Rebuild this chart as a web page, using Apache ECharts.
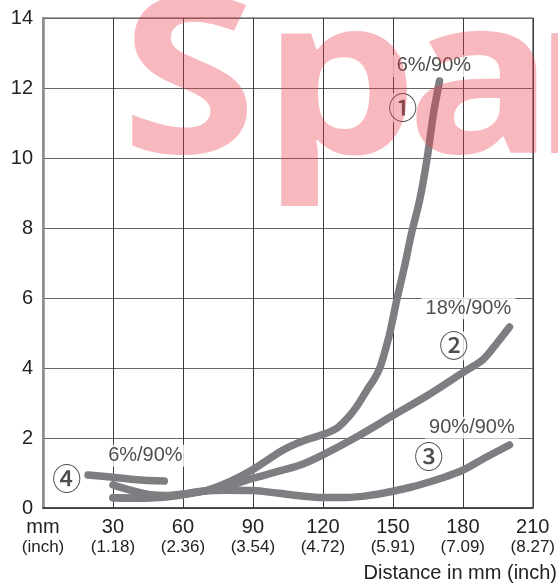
<!DOCTYPE html>
<html>
<head>
<meta charset="utf-8">
<script src="https://cdn.jsdelivr.net/npm/echarts@6/dist/echarts.min.js"></script>
<style>
html,body{margin:0;padding:0;background:#fff;}
#chart{width:558px;height:586px;}
</style>
</head>
<body>
<div id="chart"></div>
<script>
// ---- data ----
const mmLabels = ['mm', '30', '60', '90', '120', '150', '180', '210'];
const inchLabels = ['(inch)', '(1.18)', '(2.36)', '(3.54)', '(4.72)', '(5.91)', '(7.09)', '(8.27)'];
const xTitle = 'Distance in mm (inch)';

// curve 1: 6%/90%
const curve1 = [[30,0.29],[40,0.28],[50,0.3],[60,0.38],[70,0.5],[80,0.75],[90,1.1],[101.5,1.6],[106,1.76],[112,1.93],[120,2.1],[126,2.28],[131.5,2.64],[135,2.95],[139,3.38],[142,3.68],[144.4,4.0],[146.5,4.45],[148.7,5.0],[151.7,5.95],[155,6.9],[158,7.85],[161.5,8.8],[164.6,9.95],[167.6,11.35],[170,12.2]];
// curve 2: 18%/90%
const curve2 = [[30,0.66],[38,0.5],[46,0.38],[55,0.36],[65,0.44],[75,0.56],[82,0.68],[90,0.85],[100,1.03],[110,1.22],[120,1.52],[135,2.05],[150,2.64],[165,3.22],[180,3.87],[188.5,4.23],[194.5,4.7],[200,5.17]];
// curve 3: 90%/90%
const curve3 = [[30,0.29],[40,0.28],[50,0.32],[60,0.4],[68,0.48],[78,0.51],[90,0.5],[101,0.42],[110,0.35],[120,0.3],[130,0.3],[140,0.36],[150,0.48],[158,0.6],[166,0.75],[173,0.9],[180,1.08],[190,1.45],[200,1.8]];
// curve 4: 6%/90%
const curve4 = [[19.3,0.94],[30,0.88],[40,0.81],[52,0.77]];

// annotations (text, anchor in data units)
const noteTexts = ['6%/90%', '①', '18%/90%', '②', '90%/90%', '③', '6%/90%', '④'];
const noteAnchors = [[167.6,12.63],[154.2,11.44],[182.4,5.71],[176.1,4.63],[183.9,2.29],[165.4,1.46],[43.9,1.49],[10.2,0.82]];

// watermark letters
const wmLetters = ['S', 'p', 'a', 'r'];

// ---- chart ----
const chart = echarts.init(document.getElementById('chart'), null, {renderer:'canvas'});
const FONT = '"Liberation Sans", Arial, sans-serif';
const lineColor = '#7e7e82';
function lineSeries(d){
  return {
    type:'line', data:d, showSymbol:false, symbol:'none', smooth:0.3,
    lineStyle:{color:lineColor, width:7.5, cap:'round', join:'round'},
    z:3, silent:true
  };
}
const noteData = noteTexts.map((t,i)=>{
  const circled = /[①②③④]/.test(t);
  return {
    value: noteAnchors[i],
    label:{
      show:true, position:'inside', formatter:t,
      fontFamily: circled ? '"Noto Sans CJK JP", "DejaVu Sans", sans-serif' : FONT,
      fontSize: circled ? 29 : 20,
      fontWeight: circled ? 500 : 'normal',
      color:'#222',
      backgroundColor:'#ffffff',
      padding: circled ? [0,1] : [1,4]
    }
  };
});

const wmX = [121, 262, 406, 532];
const wmGraphics = wmLetters.map((c,i)=>({
  type:'text', x:wmX[i], y:90, scaleX:1.12, z:100, silent:true,
  style:{text:c, font:'bold 220px "Open Sans"', fill:'rgba(232,60,72,0.36)', verticalAlign:'middle', align:'left'}
}));

chart.setOption({
  animation:false,
  backgroundColor:'#ffffff',
  grid:{left:43, top:18, width:490, height:490, show:true, borderColor:'#8a8a8a', borderWidth:1.5},
  xAxis:{
    type:'value', min:0, max:210, interval:30,
    axisLine:{show:true, lineStyle:{color:'#333', width:1.5}},
    axisTick:{show:false},
    splitLine:{show:true, lineStyle:{color:'#3a3a3a', width:1}},
    axisLabel:{
      margin:9,
      formatter:(v)=>{const i=Math.round(v/30); return '{a|'+mmLabels[i]+'}\n{b|'+inchLabels[i]+'}';},
      rich:{
        a:{fontSize:20, lineHeight:20, color:'#222', fontFamily:FONT},
        b:{fontSize:17, lineHeight:20, color:'#222', fontFamily:FONT}
      }
    }
  },
  yAxis:{
    type:'value', min:0, max:14, interval:2,
    axisLine:{show:true, lineStyle:{color:'#8a8a8a', width:2.5}},
    axisTick:{show:false},
    splitLine:{show:true, lineStyle:{color:'#666', width:1.2}},
    axisLabel:{fontSize:20, color:'#222', fontFamily:FONT, margin:10}
  },
  series:[
    lineSeries(curve1),
    lineSeries(curve2),
    lineSeries(curve3),
    lineSeries(curve4),
    {type:'scatter', data:noteData, symbolSize:0, z:5, silent:true}
  ],
  graphic:[
    {type:'text', right:1, bottom:3, z:10,
     style:{text:xTitle, font:'20px '+FONT, fill:'#222'}}
  ].concat(wmGraphics)
});
</script>
</body>
</html>
